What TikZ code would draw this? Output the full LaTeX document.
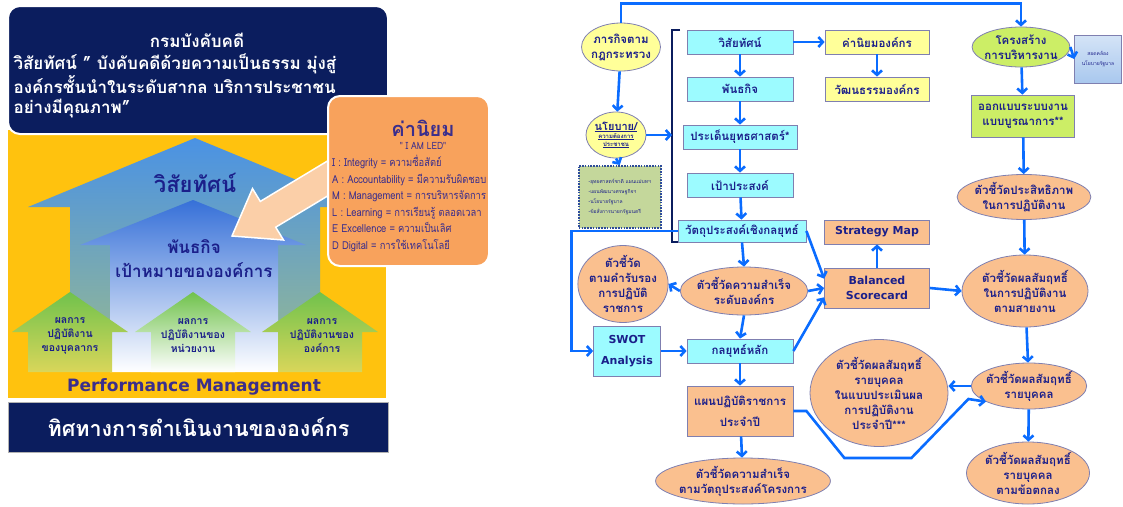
\documentclass[tikz,border=0pt]{standalone}
\usepackage{fontspec}
\setmainfont[Script=Thai]{Loma}
\newfontfamily\latinsans{DejaVu Sans}
\newfontfamily\narrowthai[Script=Thai,FakeStretch=0.85]{Loma}
\usetikzlibrary{arrows.meta,shapes.geometric,positioning}

\definecolor{navybg}{HTML}{0B1D5E}
\definecolor{gold}{HTML}{FFC20E}
\definecolor{inkblue}{HTML}{1B1F8A}
\definecolor{purpleink}{HTML}{3B2E8C}
\definecolor{flowblue}{HTML}{0A6CFF}
\definecolor{cyanfill}{HTML}{9CFBFF}
\definecolor{yellowfill}{HTML}{FFFF99}
\definecolor{orangefill}{HTML}{FAC08F}
\definecolor{limefill}{HTML}{CCEE66}
\definecolor{sagefill}{HTML}{C4D79B}
\definecolor{boxline}{HTML}{7F7FB0}
\definecolor{dotline}{HTML}{2E4C9A}
\definecolor{valorange}{HTML}{F8A25C}
\definecolor{peach}{HTML}{FBCFA8}
\definecolor{skyblue}{HTML}{4A92E4}
\definecolor{deepblue}{HTML}{3670D8}
\definecolor{tealgreen}{HTML}{8FB59A}
\definecolor{leafgreen}{HTML}{70C24C}
\definecolor{wingfade}{HTML}{D9D65A}
\definecolor{govblue}{HTML}{A9C8EE}

\newcommand\flowfont{\bfseries\fontsize{11.5}{15}\selectfont}

\begin{document}
\begin{tikzpicture}[x=1pt,y=-1pt,>={Straight Barb[length=4.5pt,width=10pt]},
    flow/.style={->,flowblue,line width=2.6},
    box/.style={draw=boxline,line width=0.8,minimum height=24,inner sep=1,font=\flowfont,text=inkblue,align=center},
    cbox/.style={box,fill=cyanfill},
    ybox/.style={box,fill=yellowfill},
    obox/.style={box,fill=orangefill},
    lbox/.style={box,fill=limefill},
    oval/.style={ellipse,draw=boxline,line width=0.8,inner sep=-2,font=\flowfont,text=inkblue,align=center},
    yoval/.style={oval,fill=yellowfill},
    ooval/.style={oval,fill=orangefill},
    loval/.style={oval,fill=limefill},
    houselabel/.style={text=inkblue,align=center}]
    \useasboundingbox (0,0) rectangle (1123,506);

    % left: house of the organisation
    \fill[gold] (8,130) rectangle (386,398);
    \shade[top color=skyblue,bottom color=tealgreen] (28,207) -- (195,138) -- (362,207) -- (320,207)
        -- (320,340) -- (70,340) -- (70,207) -- cycle;
    \shade[top color=deepblue,bottom color=white] (80,245) -- (193,200) -- (306,245) -- (278,245)
        -- (278,372) -- (110,372) -- (110,245) -- cycle;
    \foreach \px/\bot in {70/wingfade,193/white,320/wingfade}
        \shade[top color=leafgreen,bottom color=\bot] (\px-58,332) -- (\px,292) -- (\px+58,332)
            -- (\px+42,332) -- (\px+42,372) -- (\px-42,372) -- (\px-42,332) -- cycle;

    \node[houselabel,font=\bfseries\fontsize{22}{24}\selectfont] (visiontxt) at (195,183) {วิสัยทัศน์};
    \node[houselabel,font=\bfseries\fontsize{17}{24}\selectfont] (missiontxt) at (194,259) {พันธกิจ\\เป้าหมายขององค์การ};
    \node[houselabel,font=\bfseries\fontsize{10.5}{14}\selectfont] (staffres) at (70,336) {ผลการ\\ปฏิบัติงาน\\ของบุคลากร};
    \node[houselabel,font=\bfseries\fontsize{10.5}{14}\selectfont] (unitres) at (193,336) {ผลการ\\ปฏิบัติงานของ\\หน่วยงาน};
    \node[houselabel,font=\bfseries\fontsize{10.5}{14}\selectfont] (orgres) at (322,336) {ผลการ\\ปฏิบัติงานของ\\องค์การ};
    \node[text=purpleink,font=\latinsans\bfseries\fontsize{17}{20}\selectfont] (pm) at (194,387) {Performance Management};

    \node[draw=white,line width=2,fill=navybg,rounded corners=12,minimum width=380,minimum height=128,anchor=north west] (visionbox) at (7,5) {};
    \node[text=white,font=\bfseries\fontsize{17}{19}\selectfont] (dept) at (197,40) {กรมบังคับคดี};
    \node[text=white,font=\bfseries\fontsize{17}{20}\selectfont,align=left,anchor=west] (visionline) at (10,86)
        {วิสัยทัศน์ " บังคับคดีด้วยความเป็นธรรม มุ่งสู่\\องค์กรชั้นนำในระดับสากล บริการประชาชน\\อย่างมีคุณภาพ"};

    \node[fill=navybg,draw=gray!60,line width=1,minimum width=380,minimum height=50,anchor=north west,
        text=white,font=\bfseries\fontsize{21.5}{24}\selectfont] (direction) at (8,402) {ทิศทางการดำเนินงานขององค์กร};

    % values arrow and box
    \fill[peach,draw=white,line width=1.5] (232,236) -- (283.5,240.0) -- (275.7,227.2) -- (359.7,176.7)
        -- (344.3,150.9) -- (260.3,201.4) -- (252.5,188.6) -- cycle;
    \node[draw=white,line width=2,fill=valorange,rounded corners=12,minimum width=161,minimum height=170,anchor=north west] (valuebox) at (327,95) {};
    \node[text=purpleink,font=\bfseries\fontsize{20}{22}\selectfont] (valtitle) at (423,128) {ค่านิยม};
    \node[text=purpleink,font=\narrowthai\fontsize{10}{12}\selectfont] (iamled) at (423,146) {" I AM LED"};
    \node[text=purpleink,font=\narrowthai\fontsize{11}{16.5}\selectfont,align=left,anchor=north west,inner sep=0] (vallist) at (332,155)
        {I : Integrity = ความซื่อสัตย์\\A : Accountability = มีความรับผิดชอบ\\M : Management = การบริหารจัดการ\\
         L : Learning = การเรียนรู้ ตลอดเวลา\\E Excellence = ความเป็นเลิศ\\D Digital = การใช้เทคโนโลยี};

    % right: flow of strategy and indicators
    \node[yoval,minimum width=67,minimum height=48] (lawtask) at (621,47) {ภารกิจตาม\\กฎกระทรวง};
    \node[yoval,minimum width=60,minimum height=46,font=\bfseries\fontsize{11}{8}\selectfont] (policy) at (616,135)
        {\underline{นโยบาย/}\\{\fontsize{6}{8}\selectfont\underline{ความต้องการ}}\\{\fontsize{6}{8}\selectfont\underline{ประชาชน}}};
    \node[draw=dotline,dash pattern=on 1.6pt off 1.2pt,line width=1.6,fill=sagefill,minimum width=82,minimum height=62,
        anchor=north west,align=left,inner sep=4,text=inkblue,font=\fontsize{5}{10}\selectfont] (plans) at (578,165)
        {-ยุทธศาสตร์ชาติ แผนแม่บทฯ\\-แผนพัฒนาเศรษฐกิจฯ\\-นโยบายรัฐบาล\\-ข้อสั่งการนายกรัฐมนตรี};
    \coordinate (brk) at (672,135);
    \draw[navybg,line width=1.6] (680,30) -- (672,30) -- (672,242) -- (679,242);

    \node[cbox,minimum width=106] (vision) at (740,42) {วิสัยทัศน์};
    \node[cbox,minimum width=106] (mission) at (740,89) {พันธกิจ};
    \node[cbox,minimum width=114] (issue) at (740,137) {ประเด็นยุทธศาสตร์*};
    \node[cbox,minimum width=106] (goal) at (740,185) {เป้าประสงค์};
    \node[cbox,minimum width=128,minimum height=22] (objective) at (742,231) {วัตถุประสงค์เชิงกลยุทธ์};
    \node[ybox,minimum width=104] (values) at (877,42) {ค่านิยมองค์กร};
    \node[ybox,minimum width=104] (culture) at (877,89) {วัฒนธรรมองค์กร};
    \node[obox,minimum width=105,font=\latinsans\bfseries\fontsize{11}{13}\selectfont] (smap) at (877,232) {Strategy Map};
    \node[obox,minimum width=105,minimum height=40,font=\latinsans\bfseries\fontsize{11}{15}\selectfont] (bsc) at (877,288) {Balanced\\Scorecard};
    \node[ooval,minimum width=90,minimum height=77] (kpicert) at (623,284) {ตัวชี้วัด\\ตามคำรับรอง\\การปฏิบัติ\\ราชการ};
    \node[ooval,minimum width=122,minimum height=48] (kpiorg) at (744,291) {ตัวชี้วัดความสำเร็จ\\ระดับองค์กร};
    \node[cbox,minimum width=67,minimum height=50,font=\latinsans\bfseries\fontsize{11}{21}\selectfont] (swot) at (627,351) {SWOT\\Analysis};
    \node[cbox,minimum width=106] (strat) at (740,351) {กลยุทธ์หลัก};
    \node[obox,minimum width=106,minimum height=50] (plan) at (740,411) {แผนปฏิบัติราชการ\\[6pt]ประจำปี};
    \node[ooval,minimum width=168,minimum height=46] (kpiproj) at (743,481) {ตัวชี้วัดความสำเร็จ\\ตามวัตถุประสงค์โครงการ};

    \node[loval,minimum width=92,minimum height=40] (struct) at (1021,47) {โครงสร้าง\\การบริหารงาน};
    \node[draw=boxline,line width=0.6,top color=govblue!50!white,bottom color=govblue,minimum width=47,minimum height=48,
        inner sep=1,align=center,text=inkblue,font=\fontsize{5}{10}\selectfont] (gov) at (1098,59) {สอดคล้อง\\นโยบายรัฐบาล};
    \node[lbox,minimum width=103,minimum height=42] (design) at (1023,116) {ออกแบบระบบงาน\\แบบบูรณาการ**};
    \node[ooval,minimum width=123,minimum height=45] (kpieff) at (1024,197) {ตัวชี้วัดประสิทธิภาพ\\ในการปฏิบัติงาน};
    \node[ooval,minimum width=126,minimum height=72] (kpiline) at (1025,291) {ตัวชี้วัดผลสัมฤทธิ์\\ในการปฏิบัติงาน\\ตามสายงาน};
    \node[ooval,minimum width=113,minimum height=46] (kpiind) at (1029,386) {ตัวชี้วัดผลสัมฤทธิ์\\รายบุคคล};
    \node[ooval,minimum width=138,minimum height=107] (kpiyear) at (879,393) {ตัวชี้วัดผลสัมฤทธิ์\\รายบุคคล\\ในแบบประเมินผล\\การปฏิบัติงาน\\ประจำปี***};
    \node[ooval,minimum width=123,minimum height=62] (kpiagree) at (1028,473) {ตัวชี้วัดผลสัมฤทธิ์\\รายบุคคล\\ตามข้อตกลง};

    \draw[flow] (lawtask) -- (policy);
    \draw[flow] (policy.east) -- (brk);
    \draw[flow] (policy.south) -- (plans.north);
    \draw[flow] (vision) -- (mission);
    \draw[flow] (mission) -- (issue);
    \draw[flow] (issue) -- (goal);
    \draw[flow] (goal) -- (objective);
    \draw[flow] (vision) -- (values);
    \draw[flow] (values) -- (culture);
    \draw[flow] (objective.south) -- (kpiorg.north);
    \draw[flow] (kpiorg.west) -- (kpicert.east);
    \draw[flow] (kpiorg.east) -- (bsc.west);
    \draw[flow] (kpiorg.south) -- (strat.north);
    \draw[flow] (objective.east) -- (bsc.170);
    \draw[flow] (strat.east) -- (bsc.190);
    \draw[flow] (objective.west) -- ++(-106,0) |- (swot.west);
    \draw[flow] (swot) -- (strat);
    \draw[flow] (strat) -- (plan);
    \draw[flow] (plan) -- (kpiproj);
    \draw[flow] (bsc) -- (smap);
    \draw[flow] (bsc.east) -- (kpiline.west);
    \draw[flow] (lawtask.north) -- ++(0,-19) -| (struct.north);
    \draw[flow] (struct.east) -- (gov.west);
    \draw[flow] (struct) -- (design);
    \draw[flow] (design) -- (kpieff);
    \draw[flow] (kpieff) -- (kpiline);
    \draw[flow] (kpiline) -- (kpiind);
    \draw[flow] (kpiind.west) -- (kpiind.west -| kpiyear.east);
    \draw[flow] (kpiind) -- (kpiagree);
    \draw[flow] (plan.east) -- ++(13,0) -- ++(38,47) -- ++(67,0) -- ++(57,-59) -- (kpiind.200);
\end{tikzpicture}
\end{document}
